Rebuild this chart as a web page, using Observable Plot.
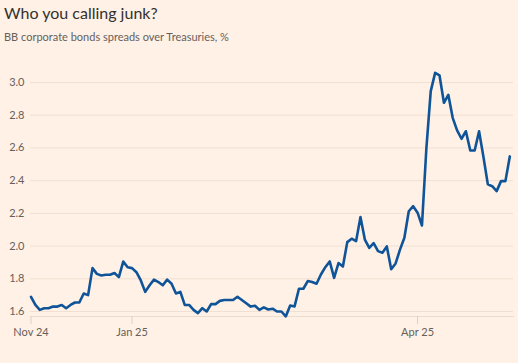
<!DOCTYPE html>
<html>
<head>
<meta charset="utf-8">
<script src="https://cdn.jsdelivr.net/npm/d3@7"></script>
<script src="https://cdn.jsdelivr.net/npm/@observablehq/plot@0.6"></script>
<style>
  html, body { margin: 0; padding: 0; background: #fff1e5; }
  body { width: 518px; height: 363px; position: relative; overflow: hidden; font-family: Lato, "Open Sans", sans-serif; }
  #title { position: absolute; left: 4px; top: 3px; font-size: 16px; line-height: 20px; color: #33302e; font-weight: 400; white-space: nowrap; }
  #subtitle { position: absolute; left: 4px; top: 30px; font-size: 11px; line-height: 14px; color: #66605c; white-space: nowrap; }
  #chart { position: absolute; left: 0; top: 50px; }
</style>
</head>
<body>
<div id="title">Who you calling junk?</div>
<div id="subtitle">BB corporate bonds spreads over Treasuries, %</div>
<div id="chart"></div>
<script>
// BB spread over Treasuries, %, one value per trading day
const spreads = [
  1.69, 1.64, 1.61, 1.62, 1.62, 1.63, 1.63, 1.64, 1.62, 1.64,
  1.655, 1.655, 1.71, 1.70, 1.865, 1.83, 1.82, 1.825, 1.825, 1.835,
  1.81, 1.905, 1.87, 1.865, 1.84, 1.79, 1.72, 1.76, 1.795, 1.78,
  1.76, 1.795, 1.77, 1.71, 1.72, 1.64, 1.64, 1.61, 1.59, 1.62,
  1.60, 1.645, 1.645, 1.665, 1.67, 1.67, 1.67, 1.69, 1.67, 1.65,
  1.63, 1.635, 1.61, 1.625, 1.612, 1.617, 1.600, 1.600, 1.570, 1.637,
  1.631, 1.739, 1.739, 1.786, 1.780, 1.770, 1.826, 1.871, 1.906, 1.806,
  1.896, 1.875, 2.024, 2.045, 2.030, 2.177, 2.040, 1.989, 2.018, 1.969,
  1.959, 1.998, 1.858, 1.894, 1.978, 2.051, 2.213, 2.244, 2.204, 2.126,
  2.595, 2.947, 3.059, 3.043, 2.876, 2.925, 2.784, 2.707, 2.656, 2.702,
  2.584, 2.584, 2.702, 2.545, 2.377, 2.366, 2.336, 2.397, 2.397, 2.548
];
const xTickIndex = [0, 23, 88];
const xTickLabels = ["Nov 24", "Jan 25", "Apr 25"];
const yTicks = [1.6, 1.8, 2.0, 2.2, 2.4, 2.6, 2.8, 3.0];

const data = spreads.map((v, i) => ({i, v}));
const textColor = "#66605c";

const chart = Plot.plot({
  width: 518,
  height: 313,
  marginTop: 10,
  marginBottom: 47,
  marginLeft: 30,
  marginRight: 5,
  style: {background: "transparent", fontFamily: "Lato, 'Open Sans', sans-serif", fontSize: "11px"},
  x: {type: "linear", domain: [-0.114, spreads.length - 1 + 0.84], label: null},
  y: {domain: [1.5694, 3.1345], label: null},
  marks: [
    Plot.gridY(yTicks, {stroke: "#f0e0d3", strokeOpacity: 1, strokeWidth: 1}),
    Plot.frame({anchor: "bottom", stroke: "#eadccf"}),
    Plot.axisY(yTicks, {label: null, tickSize: 0, tickPadding: 6, fill: textColor, fontSize: 11, tickFormat: d => d.toFixed(1)}),
    Plot.axisX(xTickIndex, {label: null, tickSize: 8, tickPadding: 4, stroke: "#ddd0c4", fill: textColor, fontSize: 11,
      tickFormat: d => xTickLabels[xTickIndex.indexOf(d)]}),
    Plot.line(data, {x: "i", y: "v", stroke: "#0f5499", strokeWidth: 2.6, strokeLinejoin: "round", strokeLinecap: "round"})
  ]
});
document.getElementById("chart").appendChild(chart);
</script>
</body>
</html>
